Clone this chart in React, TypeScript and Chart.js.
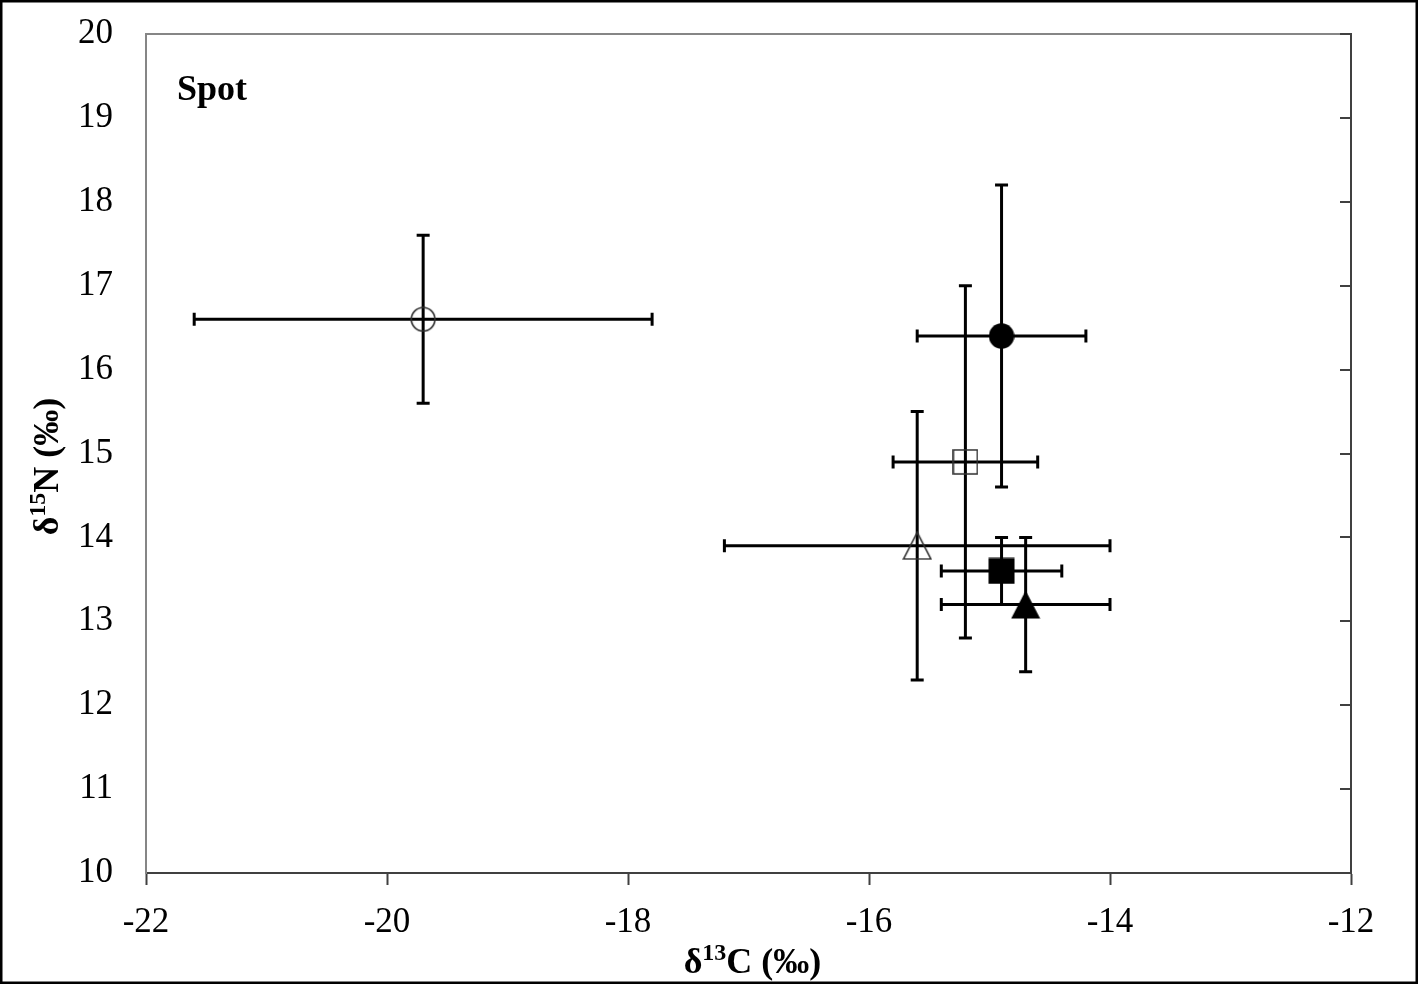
import React, { useEffect, useRef } from "react";
import { Chart, registerables } from "chart.js";

Chart.register(...registerables);

const seriesNames = ["A", "B", "C", "D", "E", "F"];
const xValues = [-19.7, -14.9, -15.2, -15.6, -14.9, -14.7];
const yValues = [16.6, 16.4, 14.9, 13.9, 13.6, 13.2];
const xErrors = [1.9, 0.7, 0.6, 1.6, 0.5, 0.7];
const yErrors = [1.0, 1.8, 2.1, 1.6, 0.4, 0.8];
const markerShapes = ["circle", "circle", "square", "triangle", "square", "triangle"];
const markerFilled = [false, true, false, false, true, true];
const xTickMin = -22;
const xTickMax = -12;
const yTickMin = 10;
const yTickMax = 20;
const panelLabel = "Spot";

const FONT = '"Liberation Serif", "Times New Roman", serif';

function makeMarker(shape: string, filled: boolean): HTMLCanvasElement {
  const c = document.createElement("canvas");
  let w = 26, h = 26;
  if (shape === "circle") { w = h = 26; }
  if (shape === "square") { w = h = filled ? 27 : 26; }
  if (shape === "triangle") { w = 30; h = 29; }
  c.width = w; c.height = h;
  const ctx = c.getContext("2d")!;
  ctx.lineWidth = 1.6;
  ctx.strokeStyle = "#303030";
  ctx.fillStyle = "#000";
  ctx.beginPath();
  if (shape === "circle") {
    ctx.arc(w / 2, h / 2, filled ? w / 2 - 0.3 : w / 2 - 1.2, 0, Math.PI * 2);
  } else if (shape === "square") {
    if (filled) ctx.rect(0.5, 0.5, w - 1, h - 1);
    else ctx.rect(1, 1, w - 2, h - 2);
  } else {
    const p = filled ? 0.5 : 1.2;
    ctx.moveTo(w / 2, p);
    ctx.lineTo(w - p, h - p);
    ctx.lineTo(p, h - p);
    ctx.closePath();
  }
  if (filled) ctx.fill();
  else ctx.stroke();
  return c;
}

const errorBarPlugin = {
  id: "errorBars",
  beforeDatasetsDraw(chart: any) {
    const { ctx, scales } = chart;
    const xs = scales.x, ys = scales.y;
    const cap = 6.5;
    ctx.save();
    ctx.strokeStyle = "#000";
    ctx.lineWidth = 3;
    ctx.lineCap = "butt";
    for (let i = 0; i < xValues.length; i++) {
      const px = xs.getPixelForValue(xValues[i]);
      const py = ys.getPixelForValue(yValues[i]);
      const x1 = xs.getPixelForValue(xValues[i] - xErrors[i]);
      const x2 = xs.getPixelForValue(xValues[i] + xErrors[i]);
      const y1 = ys.getPixelForValue(yValues[i] + yErrors[i]);
      const y2 = ys.getPixelForValue(yValues[i] - yErrors[i]);
      ctx.beginPath();
      ctx.moveTo(x1, py); ctx.lineTo(x2, py);
      ctx.moveTo(x1, py - cap); ctx.lineTo(x1, py + cap);
      ctx.moveTo(x2, py - cap); ctx.lineTo(x2, py + cap);
      ctx.moveTo(px, y1); ctx.lineTo(px, y2);
      ctx.moveTo(px - cap, y1); ctx.lineTo(px + cap, y1);
      ctx.moveTo(px - cap, y2); ctx.lineTo(px + cap, y2);
      ctx.stroke();
    }
    ctx.restore();
  },
};

function drawRich(ctx: CanvasRenderingContext2D, parts: { t: string; sup?: boolean }[], cx: number, cy: number, size: number) {
  const main = `bold ${size}px ${FONT}`;
  const sup = `bold ${Math.round(size * 0.66)}px ${FONT}`;
  let total = 0;
  for (const p of parts) {
    ctx.font = p.sup ? sup : main;
    total += ctx.measureText(p.t).width;
  }
  let x = cx - total / 2;
  ctx.textBaseline = "alphabetic";
  ctx.textAlign = "left";
  for (const p of parts) {
    ctx.font = p.sup ? sup : main;
    ctx.fillText(p.t, x, p.sup ? cy - size * 0.36 : cy);
    x += ctx.measureText(p.t).width;
  }
}

const framePlugin = {
  id: "frame",
  afterDraw(chart: any) {
    const { ctx, chartArea, scales } = chart;
    const { left, right, top, bottom } = chartArea;
    ctx.save();
    ctx.strokeStyle = "#868686";
    ctx.lineWidth = 2;
    ctx.beginPath();
    ctx.moveTo(left, top); ctx.lineTo(right, top);
    ctx.stroke();
    ctx.strokeStyle = "#404040";
    ctx.beginPath();
    ctx.moveTo(right, top - 1); ctx.lineTo(right, bottom);
    ctx.stroke();
    const ys = scales.y;
    for (let v = yTickMin; v <= yTickMax; v++) {
      const py = Math.round(ys.getPixelForValue(v));
      ctx.beginPath();
      ctx.moveTo(right - 11, py); ctx.lineTo(right, py);
      ctx.stroke();
    }
    ctx.strokeStyle = "#000";
    ctx.lineWidth = 2.5;
    ctx.strokeRect(1.25, 1.25, 1415.5, 981.5);
    ctx.fillStyle = "#000";
    ctx.font = `bold 36px ${FONT}`;
    ctx.textAlign = "left";
    ctx.textBaseline = "alphabetic";
    ctx.fillText(panelLabel, left + 31, top + 66);
    drawRich(ctx, [{ t: "δ" }, { t: "13", sup: true }, { t: "C (‰)" }], (left + right) / 2 + 4, 973, 36);
    ctx.translate(58, (top + bottom) / 2 + 13);
    ctx.rotate(-Math.PI / 2);
    drawRich(ctx, [{ t: "δ" }, { t: "15", sup: true }, { t: "N (‰)" }], 0, 0, 36);
    ctx.restore();
  },
};

export default function App() {
  const ref = useRef<HTMLCanvasElement>(null);
  useEffect(() => {
    const canvas = ref.current!;
    const datasets = seriesNames.map((name, i) => ({
      label: name,
      data: [{ x: xValues[i], y: yValues[i] }],
      pointStyle: makeMarker(markerShapes[i], markerFilled[i]) as any,
      pointRadius: 13,
      pointHoverRadius: 13,
      showLine: false,
    }));
    const chart = new Chart(canvas, {
      type: "scatter",
      data: { datasets },
      plugins: [errorBarPlugin, framePlugin],
      options: {
        responsive: false,
        animation: false,
        devicePixelRatio: 1,
        layout: { padding: { top: 34, right: 69, left: 0, bottom: 0 } },
        plugins: { legend: { display: false }, tooltip: { enabled: false }, title: { display: false } },
        scales: {
          x: {
            type: "linear",
            min: xTickMin,
            max: xTickMax,
            afterFit: (s: any) => { s.height = 112; s.paddingLeft = 0; s.paddingRight = 0; },
            ticks: {
              stepSize: 2,
              color: "#000",
              padding: 17,
              font: { family: FONT, size: 35 },
              maxRotation: 0,
            },
            grid: { drawOnChartArea: false, drawTicks: true, tickLength: 12, tickColor: "#404040", tickWidth: 2 },
            border: { display: true, color: "#404040", width: 2 },
          },
          y: {
            type: "linear",
            min: yTickMin,
            max: yTickMax,
            afterFit: (s: any) => { s.width = 146; s.paddingTop = 0; s.paddingBottom = 0; },
            ticks: {
              stepSize: 1,
              color: "#000",
              padding: 33,
              font: { family: FONT, size: 35 },
            },
            grid: { drawOnChartArea: false, drawTicks: false },
            border: { display: true, color: "#868686", width: 2 },
          },
        },
      },
    });
    return () => chart.destroy();
  }, []);
  return (
    <canvas
      ref={ref}
      width={1420}
      height={985}
      style={{ position: "fixed", left: 0, top: 0, width: 1420, height: 985, display: "block", background: "#fff" }}
    />
  );
}
